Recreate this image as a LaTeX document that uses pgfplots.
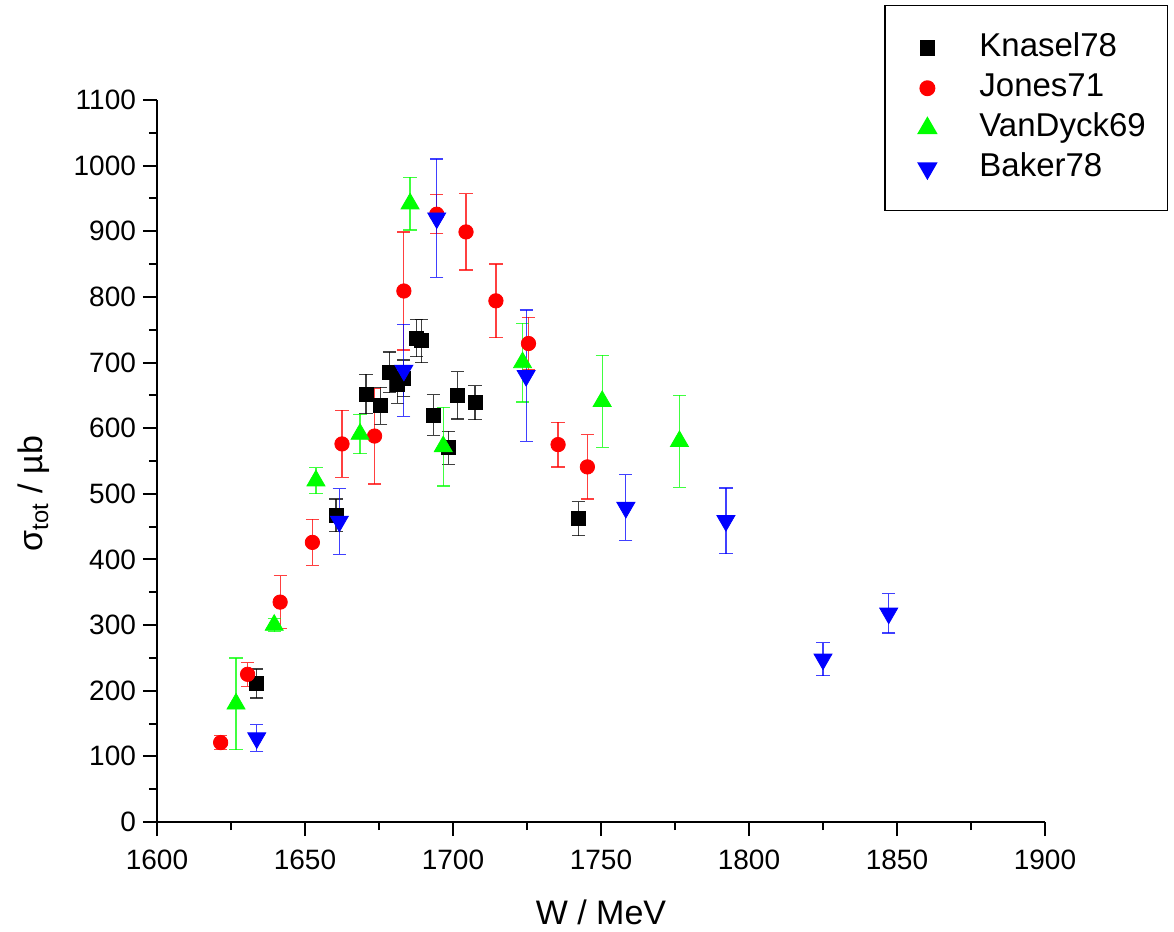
\documentclass[border=0pt]{standalone}
\usepackage{fontspec}
\setmainfont{Liberation Sans}
\usepackage{pgfplots}
\usepackage{pgfplotstable}
\pgfplotsset{compat=1.18}

\pgfplotstableread{
x y e
1633.7 211 22
1660.5 467 25
1670.6 652 30
1675.6 634 28
1678.5 685 31
1681.2 666 28
1683.4 676 28
1687.7 737 28
1689.4 733 33
1693.4 620 31
1698.4 570 25
1701.5 650 36
1707.4 639 26
1742.3 462 26
}\knasel

\pgfplotstableread{
x y e
1621.5 121 11
1630.6 225 18
1641.6 335 40
1652.5 426 35
1662.5 576 51
1673.5 588 73
1683.4 809 90
1694.5 926 30
1704.4 899 58
1714.5 794 56
1725.5 729 40
1735.5 575 34
1745.4 541 49
}\jones

\pgfplotstableread{
x y e
1626.7 180 70
1639.6 300 10
1653.7 520 20
1668.6 591 30
1685.5 942 40
1696.7 572 60
1723.5 700 60
1750.4 641 70
1776.5 580 70
}\vandyck

\pgfplotstableread{
x y e
1633.7 128 20
1661.6 458 50
1683.4 688 70
1694.5 920 90
1724.7 680 100
1758.4 479 50
1792.2 459 50
1825.0 248 25
1847.2 318 30
}\baker

\pgfplotsset{
  errs/.style={
    error bars/.cd, y dir=both, y explicit,
    error bar style={line width=0.6pt, opacity=0.75},
    error mark options={rotate=90, mark size=3.3pt, line width=0.6pt, opacity=0.75},
  },
}

\begin{document}
\begin{tikzpicture}
\useasboundingbox (-78.5pt,-55pt) rectangle (508.5pt,411pt);
\begin{axis}[
  at={(0pt,0pt)}, anchor=south west,
  scale only axis, width=444pt, height=361pt,
  xmin=1600, xmax=1900, ymin=0, ymax=1100,
  axis lines*=left,
  axis line style={-, line width=1pt},
  tick pos=left,
  xtick={1600,1650,...,1900}, ytick={0,100,...,1100},
  minor x tick num=1, minor y tick num=1,
  tick align=outside,
  major tick length=7pt, minor tick length=4pt,
  every tick/.style={line width=1pt, black},
  /pgf/number format/assume math mode=true,
  /pgf/number format/set thousands separator={},
  ticklabel style={font=\fontsize{14}{16}\selectfont},
  xticklabel style={yshift=-3.5pt},
  xlabel={W / MeV},
  xlabel style={yshift=-8pt},
  ylabel={σ\textsubscript{tot} / µb},
  ylabel style={at={(ticklabel cs:0.455)}},
  ylabel shift=5pt,
  label style={font=\fontsize{17}{20}\selectfont},
  legend style={at={(rel axis cs:0.8187,1.1316)}, anchor=north west,
    draw=black, line width=0.75pt, font=\fontsize{16.5}{18}\selectfont,
    inner xsep=9pt, inner ysep=11.25pt, row sep=0pt,
    nodes={inner sep=2pt, text height=12pt, text depth=4pt},
    /tikz/every odd column/.append style={column sep=11.4pt}},
  legend cell align=left,
  legend image code/.code={%
    \path (0cm,-0.1cm) (0.85cm,0.1cm);
    \draw[#1] plot coordinates {(0.42cm,0cm)};},
]
\addplot[only marks, mark=square*, mark size=3.5pt, black,
  mark options={fill=black, draw=black}, errs]
  table[x=x, y=y, y error=e] {\knasel};
\addlegendentry{Knasel78}
\addplot[only marks, mark=*, mark size=3.6pt, red,
  mark options={fill=red, draw=red}, errs]
  table[x=x, y=y, y error=e] {\jones};
\addlegendentry{Jones71}
\addplot[only marks, mark=triangle*, mark size=5.2pt, green,
  mark options={fill=green, draw=green}, errs]
  table[x=x, y=y, y error=e] {\vandyck};
\addlegendentry{VanDyck69}
\addplot[only marks, mark=triangle*, mark size=5.2pt, blue,
  mark options={fill=blue, draw=blue, rotate=180}, errs]
  table[x=x, y=y, y error=e] {\baker};
\addlegendentry{Baker78}
\end{axis}
\end{tikzpicture}
\end{document}
